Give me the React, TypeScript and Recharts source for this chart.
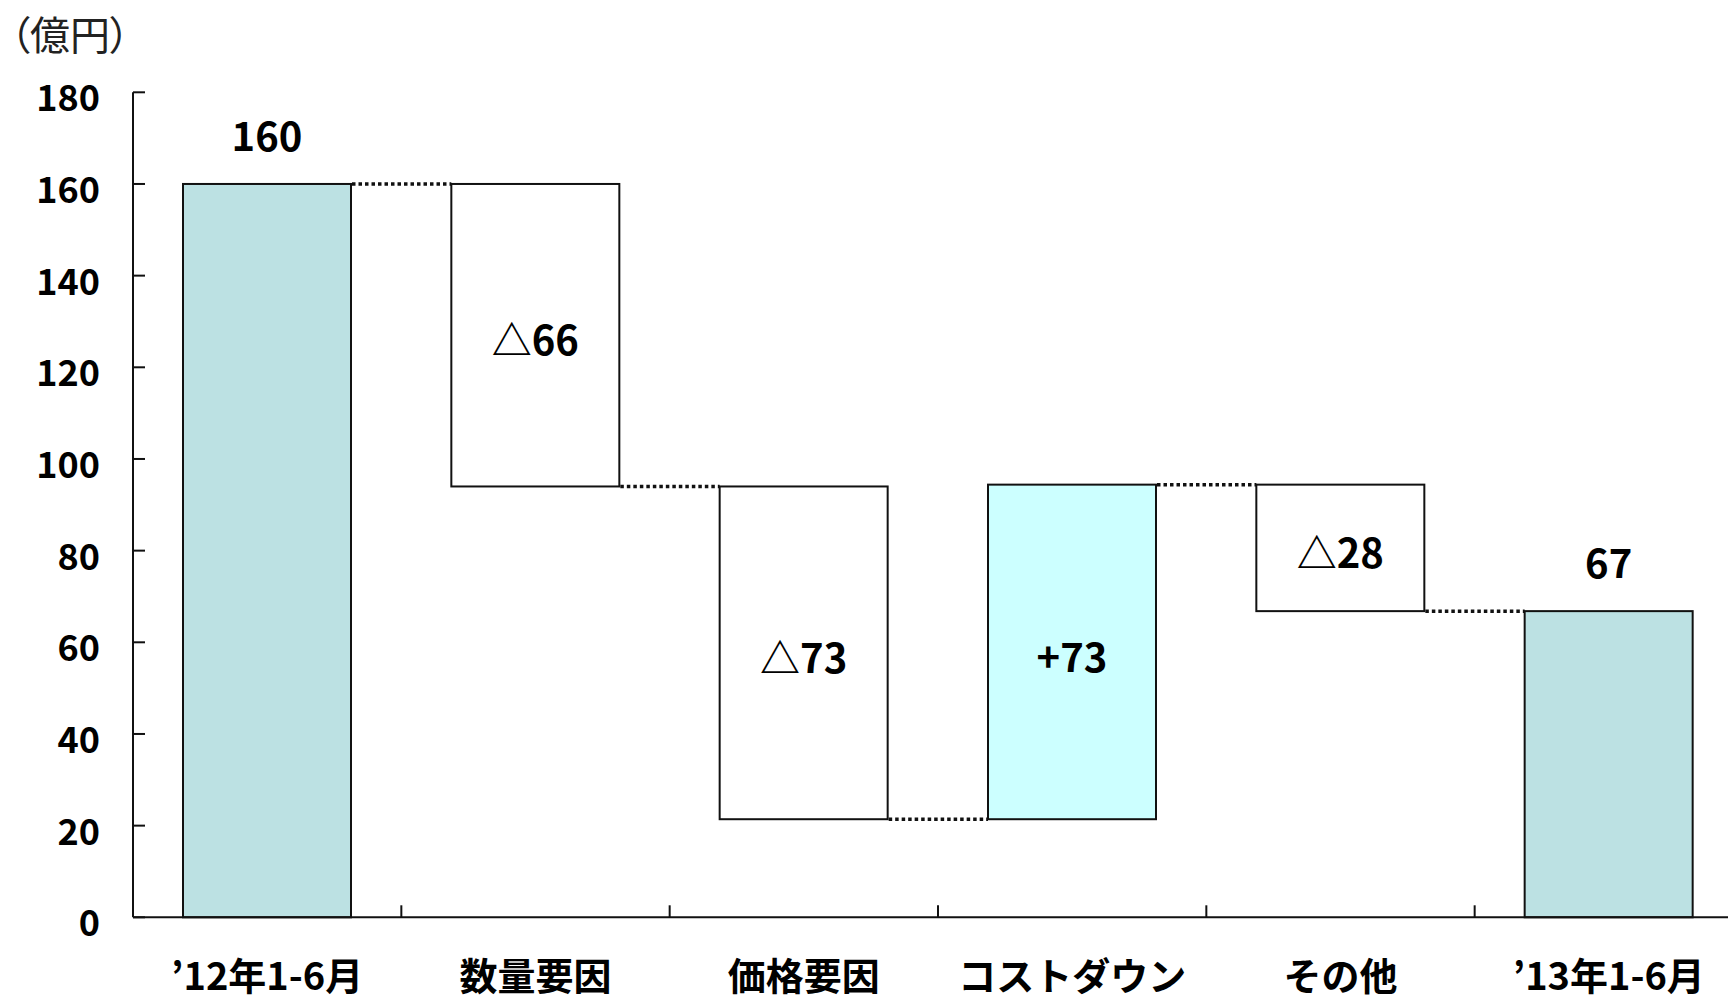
import { Bar, BarChart, LabelList, XAxis, YAxis } from "recharts";

const categories = ["’12年1-6月", "数量要因", "価格要因", "コストダウン", "その他", "’13年1-6月"];
const lows = [0, 94, 21.4, 21.4, 66.8, 0];
const highs = [160, 160, 94, 94.4, 94.4, 66.8];
const kinds = ["total", "down", "down", "up", "down", "total"];
const valueLabels = ["160", "△66", "△73", "+73", "△28", "67"];
const yTicks = [0, 20, 40, 60, 80, 100, 120, 140, 160, 180];

const data = categories.map((name, i) => ({
  name,
  range: [lows[i], highs[i]],
  kind: kinds[i],
  label: valueLabels[i],
}));

const CHART_W = 1760;
const CHART_H = 1001;
const MARGIN = { top: 92.3, right: 17, bottom: 0, left: 0 };
const Y_W = 133;
const X_H = 83.7;
const AXIS_Y = CHART_H - MARGIN.bottom - X_H;
const CAT_W = (CHART_W - MARGIN.left - MARGIN.right - Y_W) / categories.length;
const FONT = "'Noto Sans CJK JP', 'Noto Sans CJK SC', sans-serif";
const INK = "#111";

const fills: Record<string, string> = { total: "#BCE1E3", up: "#CCFFFF", down: "#FFFFFF" };

function StepBar(props: any) {
  const { x, y, width, height, index, payload } = props;
  const top = Math.min(y, y + height);
  const h = Math.abs(height);
  // connector runs at the level where the next step starts
  const levelY = payload.kind === "down" ? top + h : top;
  return (
    <g>
      <rect x={x} y={top} width={width} height={h} fill={fills[payload.kind]} stroke={INK} strokeWidth={2} />
      {index < categories.length - 1 && (
        <line
          x1={x + width + 1}
          x2={x + CAT_W}
          y1={levelY}
          y2={levelY}
          stroke={INK}
          strokeWidth={3.5}
          strokeDasharray="3.5 3"
        />
      )}
    </g>
  );
}

function ValueLabel(props: any) {
  const { x, y, width, height, value, index } = props;
  const top = Math.min(y, y + height);
  const h = Math.abs(height);
  const isTotal = kinds[index] === "total";
  const ty = isTotal ? top - 50 : top + h / 2 + 3;
  return (
    <text
      x={x + width / 2}
      y={ty}
      textAnchor="middle"
      dominantBaseline="central"
      fontSize={40}
      fontWeight={700}
      fontFamily={FONT}
      fill="#000"
    >
      {value}
    </text>
  );
}

function YTick({ y, payload }: any) {
  return (
    <g>
      <line x1={Y_W} x2={Y_W + 12} y1={y} y2={y} stroke={INK} strokeWidth={2} />
      <text
        x={100}
        y={y + 3}
        textAnchor="end"
        dominantBaseline="central"
        fontSize={36}
        fontWeight={700}
        fontFamily={FONT}
        fill="#000"
      >
        {payload.value}
      </text>
    </g>
  );
}

function XTick({ x, payload, index }: any) {
  return (
    <g>
      {index < categories.length - 1 && (
        <line x1={x + CAT_W / 2} x2={x + CAT_W / 2} y1={AXIS_Y} y2={AXIS_Y - 12} stroke={INK} strokeWidth={2} />
      )}
      <text
        x={x}
        y={AXIS_Y + 56}
        textAnchor="middle"
        dominantBaseline="central"
        fontSize={38}
        fontWeight={700}
        fontFamily={FONT}
        fill="#000"
      >
        {payload.value}
      </text>
    </g>
  );
}

export default function App() {
  return (
    <div
      style={{
        position: "absolute",
        left: 0,
        top: 0,
        width: 1728,
        height: 1001,
        overflow: "hidden",
        background: "#fff",
      }}
    >
      <div
        style={{
          position: "absolute",
          left: 10,
          top: 11,
          fontFamily: FONT,
          fontSize: 40,
          lineHeight: 1.1,
          fontFeatureSettings: '"palt"',
          color: "#222",
        }}
      >
        （億円）
      </div>
      <BarChart width={CHART_W} height={CHART_H} data={data} margin={MARGIN} barSize={168}>
        <XAxis
          dataKey="name"
          height={X_H}
          axisLine={{ stroke: INK, strokeWidth: 2 }}
          tickLine={false}
          tickSize={0}
          tickMargin={0}
          interval={0}
          tick={<XTick />}
        />
        <YAxis
          width={Y_W}
          domain={[0, 180]}
          ticks={yTicks}
          interval={0}
          axisLine={{ stroke: INK, strokeWidth: 2 }}
          tickLine={false}
          tickSize={0}
          tickMargin={0}
          tick={<YTick />}
        />
        <Bar dataKey="range" shape={<StepBar />} isAnimationActive={false}>
          <LabelList dataKey="label" content={<ValueLabel />} />
        </Bar>
      </BarChart>
    </div>
  );
}
